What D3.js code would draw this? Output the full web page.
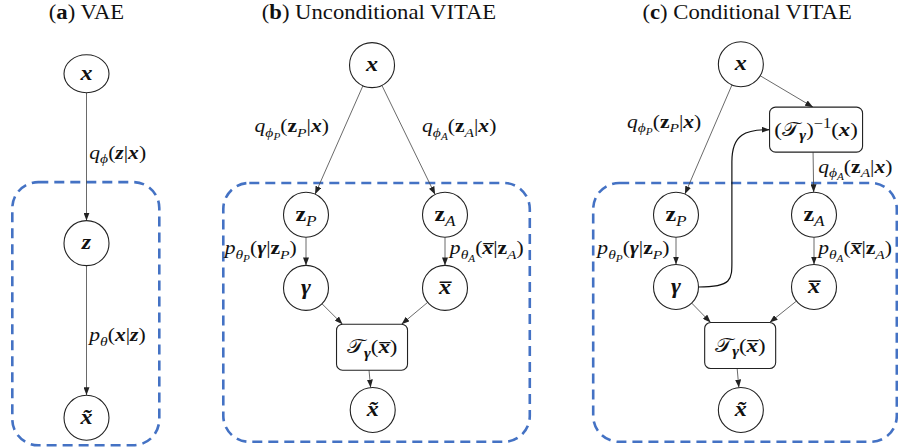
<!DOCTYPE html>
<html lang="en">
  <head>
    <meta charset="UTF-8" />
    <title>VAE / VITAE graphical models</title>
    <style>
      body { margin: 0; background: #fff; }
    </style>
  </head>
  <body>
    <svg id="svg" width="898" height="448"></svg>
    <script src="https://d3js.org/d3.v7.min.js"></script>
    <script>
      // diagram layout in grid units: col in [-1, 1] per panel, row 0 = top node, row 4 = bottom node
      const titles = [
        { panel: "a", col: 0, segs: [["(", "r"], ["a", "b"], [") VAE", "r"]] },
        { panel: "b", col: 0.05, segs: [["(", "r"], ["b", "b"], [") Unconditional VITAE", "r"]] },
        { panel: "c", col: 0.03, segs: [["(", "r"], ["c", "b"], [") Conditional VITAE", "r"]] },
      ];

      const frames = [
        { panel: "a", col0: -1.06, col1: 1.04, row0: 1.35, row1: 4.41 },
        { panel: "b", col0: -2.19, col1: 2.22, row0: 1.36, row1: 4.37 },
        { panel: "c", col0: -2.2, col1: 2.2, row0: 1.36, row1: 4.37 },
      ];

      const nodes = [
        { id: "a_x", panel: "a", col: 0, row: 0.09, squash: true, segs: [["x", "bi"]] },
        { id: "a_z", panel: "a", col: 0, row: 2.06, segs: [["z", "bi"]] },
        { id: "a_xt", panel: "a", col: 0, row: 4.09, segs: [["x\u0303", "bi"]] },

        { id: "b_x", panel: "b", col: -0.05, row: -0.01, segs: [["x", "bi"]] },
        { id: "b_zp", panel: "b", col: -1, row: 1.73, segs: [["z", "b"], ["P", "i", 1]] },
        { id: "b_za", panel: "b", col: 1, row: 1.73, segs: [["z", "b"], ["A", "i", 1]] },
        { id: "b_g", panel: "b", col: -1, row: 2.58, segs: [["\u03b3", "bi"]] },
        { id: "b_xb", panel: "b", col: 1, row: 2.58, segs: [["x\u0305", "bi"]] },
        { id: "b_T", panel: "b", col: -0.05, row: 3.27, box: "small",
          segs: [["\ud835\udcaf", "r"], ["\u03b3", "bi", 1], ["(", "r"], ["x\u0305", "bi"], [")", "r"]] },
        { id: "b_xt", panel: "b", col: -0.04, row: 4.0, segs: [["x\u0303", "bi"]] },

        { id: "c_x", panel: "c", col: -0.06, row: -0.02, segs: [["x", "bi"]] },
        { id: "c_inv", panel: "c", col: 1.03, row: 0.74, box: "wide",
          segs: [["(", "r"], ["\ud835\udcaf", "r"], ["\u03b3", "bi", 1], [")", "r"], ["\u22121", "r", -1], ["(", "r"], ["x", "bi"], [")", "r"]] },
        { id: "c_zp", panel: "c", col: -1, row: 1.73, segs: [["z", "b"], ["P", "i", 1]] },
        { id: "c_za", panel: "c", col: 1, row: 1.73, segs: [["z", "b"], ["A", "i", 1]] },
        { id: "c_g", panel: "c", col: -1, row: 2.57, segs: [["\u03b3", "bi"]] },
        { id: "c_xb", panel: "c", col: 1, row: 2.57, segs: [["x\u0305", "bi"]] },
        { id: "c_T", panel: "c", col: -0.07, row: 3.25, box: "small",
          segs: [["\ud835\udcaf", "r"], ["\u03b3", "bi", 1], ["(", "r"], ["x\u0305", "bi"], [")", "r"]] },
        { id: "c_xt", panel: "c", col: -0.06, row: 4.0, segs: [["x\u0303", "bi"]] },
      ];

      const edges = [
        ["a_x", "a_z"], ["a_z", "a_xt"],
        ["b_x", "b_zp"], ["b_x", "b_za"], ["b_zp", "b_g"], ["b_za", "b_xb"],
        ["b_g", "b_T", "tl"], ["b_xb", "b_T", "tr"], ["b_T", "b_xt"],
        ["c_x", "c_zp"], ["c_x", "c_inv", "top"], ["c_inv", "c_za"], ["c_zp", "c_g"], ["c_za", "c_xb"],
        ["c_g", "c_T", "tl"], ["c_xb", "c_T", "tr"], ["c_T", "c_xt"],
      ];

      // curved conditioning edge gamma -> (T_gamma)^-1 : turns up at this column
      const curveEdges = [{ panel: "c", from: "c_g", to: "c_inv", turnCol: -0.19 }];

      const labels = [
        { panel: "a", col: 0.04, row: 1.08,
          segs: [["q", "i"], ["\u03d5", "i", 1], ["(", "r"], ["z", "bi"], ["|", "r"], ["x", "bi"], [")", "r"]] },
        { panel: "a", col: 0.04, row: 3.2,
          segs: [["p", "i"], ["\u03b8", "i", 1], ["(", "r"], ["x", "bi"], ["|", "r"], ["z", "bi"], [")", "r"]] },
        { panel: "b", col: -1.74, row: 0.77,
          segs: [["q", "i"], ["\u03d5", "i", 1], ["P", "i", 2], ["(", "r"], ["z", "b"], ["P", "i", 1], ["|", "r"], ["x", "bi"], [")", "r"]] },
        { panel: "b", col: 0.67, row: 0.77,
          segs: [["q", "i"], ["\u03d5", "i", 1], ["A", "i", 2], ["(", "r"], ["z", "b"], ["A", "i", 1], ["|", "r"], ["x", "bi"], [")", "r"]] },
        { panel: "b", col: -2.17, row: 2.19,
          segs: [["p", "i"], ["\u03b8", "i", 1], ["P", "i", 2], ["(", "r"], ["\u03b3", "bi"], ["|", "r"], ["z", "b"], ["P", "i", 1], [")", "r"]] },
        { panel: "b", col: 1.07, row: 2.19,
          segs: [["p", "i"], ["\u03b8", "i", 1], ["A", "i", 2], ["(", "r"], ["x\u0305", "bi"], ["|", "r"], ["z", "b"], ["A", "i", 1], [")", "r"]] },
        { panel: "c", col: -1.71, row: 0.72,
          segs: [["q", "i"], ["\u03d5", "i", 1], ["P", "i", 2], ["(", "r"], ["z", "b"], ["P", "i", 1], ["|", "r"], ["x", "bi"], [")", "r"]] },
        { panel: "c", col: 1.06, row: 1.24,
          segs: [["q", "i"], ["\u03d5", "i", 1], ["A", "i", 2], ["(", "r"], ["z", "b"], ["A", "i", 1], ["|", "r"], ["x", "bi"], [")", "r"]] },
        { panel: "c", col: -2.14, row: 2.19,
          segs: [["p", "i"], ["\u03b8", "i", 1], ["P", "i", 2], ["(", "r"], ["\u03b3", "bi"], ["|", "r"], ["z", "b"], ["P", "i", 1], [")", "r"]] },
        { panel: "c", col: 1.06, row: 2.19,
          segs: [["p", "i"], ["\u03b8", "i", 1], ["A", "i", 2], ["(", "r"], ["x\u0305", "bi"], ["|", "r"], ["z", "b"], ["A", "i", 1], [")", "r"]] },
      ];

      // scales
      const xScales = {
        a: d3.scaleLinear().domain([-1, 1]).range([16.5, 156.5]),
        b: d3.scaleLinear().domain([-1, 1]).range([306, 445]),
        c: d3.scaleLinear().domain([-1, 1]).range([676, 814]),
      };
      const yScale = d3.scaleLinear().domain([0, 4]).range([66, 410]);

      const R = 22.5;
      const boxSize = { small: [71, 46], wide: [93, 45] };
      const FONT = '"Liberation Serif", "Times New Roman", serif';
      const STRETCH = 1.2; // the source figure's math is a little wider than tall

      const svg = d3.select("#svg");

      svg.append("defs").append("marker")
        .attr("id", "arrow")
        .attr("viewBox", "0 0 8 6")
        .attr("refX", 8)
        .attr("refY", 3)
        .attr("markerWidth", 8)
        .attr("markerHeight", 6)
        .attr("markerUnits", "userSpaceOnUse")
        .attr("orient", "auto")
        .append("path")
        .attr("d", "M0,0 L8,3 L0,6 Z")
        .attr("fill", "#222");

      // write a list of [text, style, level] segments into a <text>
      const sizes = { 0: 1, 1: 0.72, 2: 0.52, "-1": 0.72 };
      const shifts = { 0: 0, 1: 0.25, 2: 0.42, "-1": -0.42 };
      function mathText(g, segs, base, anchor) {
        const t = g.append("text")
          .attr("text-anchor", anchor)
          .attr("fill", "#111")
          .style("font-family", FONT);
        let cur = 0;
        segs.forEach(([s, style, level = 0]) => {
          const off = shifts[level] * base;
          t.append("tspan")
            .attr("dy", off - cur)
            .style("font-family", FONT)
            .style("font-size", base * sizes[level] + "px")
            .style("font-style", style.includes("i") ? "italic" : "normal")
            .style("font-weight", style.includes("b") ? "bold" : "normal")
            .text(s);
          cur = off;
        });
      }
      const textAt = (parent, x, y, sx = STRETCH) =>
        parent.append("g").attr("transform", `translate(${x},${y}) scale(${sx},1)`);

      const pos = (d) => [xScales[d.panel](d.col), yScale(d.row)];
      const byId = new Map(nodes.map((d) => [d.id, d]));

      // dashed frames
      svg.append("g")
        .selectAll("rect")
        .data(frames)
        .join("rect")
        .attr("x", (d) => xScales[d.panel](d.col0))
        .attr("y", (d) => yScale(d.row0))
        .attr("width", (d) => xScales[d.panel](d.col1) - xScales[d.panel](d.col0))
        .attr("height", (d) => yScale(d.row1) - yScale(d.row0))
        .attr("rx", 26)
        .attr("fill", "none")
        .attr("stroke", "#4472c4")
        .attr("stroke-width", 2.6)
        .attr("stroke-dasharray", "10 6");

      // titles
      const titleG = svg.append("g");
      titles.forEach((d) => {
        mathText(textAt(titleG, xScales[d.panel](d.col), 19, 1.08), d.segs, 21, "middle");
      });

      // anchor points on a node
      function anchor(n, kind, toward) {
        const [cx, cy] = pos(n);
        if (n.box) {
          const [w, h] = boxSize[n.box];
          if (kind === "tl") return [cx - w / 2 + 6, cy - h / 2];
          if (kind === "tr") return [cx + w / 2 - 6, cy - h / 2];
          if (kind === "top") return [cx - 3, cy - h / 2];
          if (kind === "left") return [cx - w / 2, cy];
          return [cx - 3, cy + h / 2];
        }
        const ry = n.squash ? 19 : R;
        const dx = toward[0] - cx, dy = toward[1] - cy;
        const len = Math.hypot(dx, dy);
        return [cx + (R * dx) / len, cy + (ry * dy) / len];
      }

      const edgeG = svg.append("g");
      edgeG.selectAll("line")
        .data(edges)
        .join("line")
        .each(function ([s, t, kind]) {
          const sn = byId.get(s), tn = byId.get(t);
          const tp = tn.box ? anchor(tn, kind) : null;
          const sp = anchor(sn, "bottom", tp || pos(tn));
          const ep = tp || anchor(tn, null, sp);
          d3.select(this)
            .attr("x1", sp[0]).attr("y1", sp[1])
            .attr("x2", ep[0]).attr("y2", ep[1]);
        })
        .attr("stroke", "#444")
        .attr("stroke-width", 0.8)
        .attr("marker-end", "url(#arrow)");

      edgeG.selectAll("path")
        .data(curveEdges)
        .join("path")
        .attr("d", (d) => {
          const [gx, gy] = pos(byId.get(d.from));
          const end = anchor(byId.get(d.to), "left");
          const tx = xScales[d.panel](d.turnCol);
          const p = d3.path();
          p.moveTo(gx + R, gy);
          p.bezierCurveTo(tx + 2, gy, tx, gy - 8, tx, gy - 30);
          p.lineTo(tx, end[1] + 32);
          p.bezierCurveTo(tx, end[1] + 4, tx + 14, end[1], end[0], end[1]);
          return p.toString();
        })
        .attr("fill", "none")
        .attr("stroke", "#111")
        .attr("stroke-width", 1.2)
        .attr("marker-end", "url(#arrow)");

      // nodes
      const nodeG = svg.append("g")
        .selectAll("g")
        .data(nodes)
        .join("g")
        .attr("transform", (d) => `translate(${pos(d)})`);

      nodeG.filter((d) => !d.box)
        .append("ellipse")
        .attr("rx", R)
        .attr("ry", (d) => (d.squash ? 19 : R))
        .attr("fill", "#fff")
        .attr("stroke", "#222")
        .attr("stroke-width", 1.1);

      nodeG.filter((d) => d.box)
        .append("rect")
        .attr("x", (d) => -boxSize[d.box][0] / 2)
        .attr("y", (d) => -boxSize[d.box][1] / 2)
        .attr("width", (d) => boxSize[d.box][0])
        .attr("height", (d) => boxSize[d.box][1])
        .attr("rx", 6)
        .attr("fill", "#fff")
        .attr("stroke", "#222")
        .attr("stroke-width", 1.1);

      nodeG.each(function (d) {
        mathText(textAt(d3.select(this), 0, 6), d.segs, d.box ? 19 : 20, "middle");
      });

      // edge labels
      const labelG = svg.append("g");
      labels.forEach((d) => {
        mathText(textAt(labelG, xScales[d.panel](d.col), yScale(d.row)), d.segs, 18, "start");
      });
    </script>
  </body>
</html>
